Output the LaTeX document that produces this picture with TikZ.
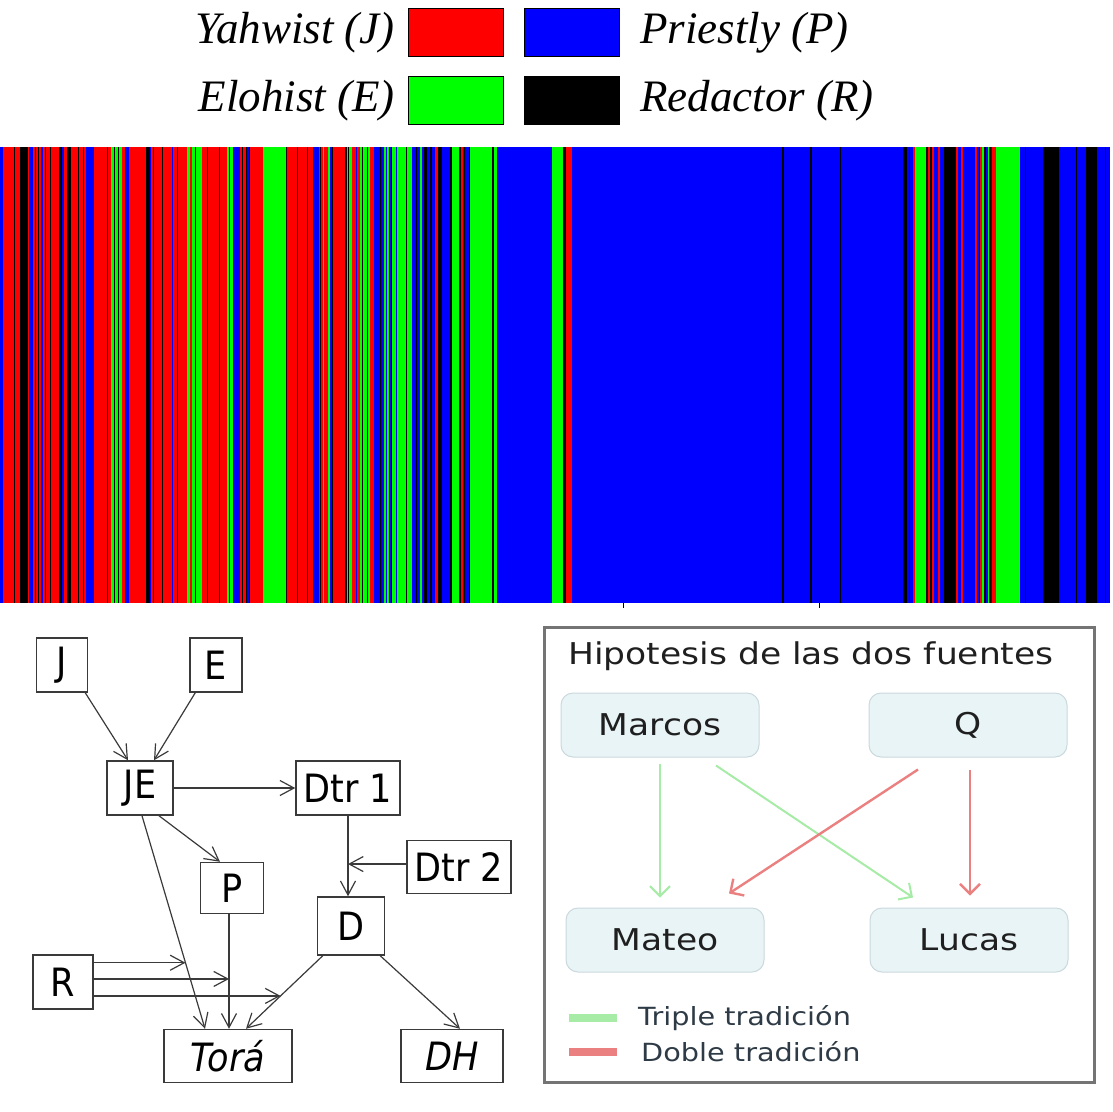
\documentclass[tikz,border=0pt]{standalone}
\usepackage{fontspec}
\usetikzlibrary{arrows.meta}
\newfontfamily\legfont{Liberation Serif}
\newfontfamily\diafont[FakeStretch=0.9]{DejaVu Sans}
\newfontfamily\boxfont[FakeStretch=1.15]{DejaVu Sans}
\colorlet{J}{red}
\colorlet{E}{green}
\colorlet{P}{blue}
\colorlet{R}{black}
\definecolor{linegray}{HTML}{3A3A3A}
\definecolor{framegray}{HTML}{747474}
\definecolor{boxfill}{HTML}{E9F4F7}
\definecolor{boxline}{HTML}{CAD9DD}
\definecolor{tripgreen}{HTML}{A6EBA6}
\definecolor{dobred}{HTML}{EB8080}
\definecolor{keytext}{HTML}{2E3B46}
\tikzset{
	srclabel/.style={font=\legfont\itshape\fontsize{45}{45}\selectfont, inner sep=0pt},
	swatch/.style={draw=black, line width=0.8pt, minimum width=95pt, minimum height=48pt, inner sep=0pt},
	src/.style={draw=linegray, line width=1.5pt, inner sep=0pt, minimum width=60pt, minimum height=54pt, font=\diafont\fontsize{39}{39}\selectfont},
	arr/.style={draw=linegray, line width=1.2pt, -{Straight Barb[length=14pt,width=15pt]}},
	gosp/.style={draw=boxline, line width=1pt, fill=boxfill, rounded corners=12pt, minimum width=198pt, minimum height=64pt, text=black!88, font=\boxfont\fontsize{30}{30}\selectfont},
	garr/.style={draw=tripgreen, line width=2pt, -{Straight Barb[length=10pt,width=20pt]}},
	rarr/.style={draw=dobred, line width=2.4pt, -{Straight Barb[length=10pt,width=20pt]}},
	keylabel/.style={anchor=west, inner sep=0pt, text=keytext, font=\boxfont\fontsize{25}{25}\selectfont},
}

\begin{document}
\begin{tikzpicture}[x=1pt, y=-1pt]
	%%%%% START %%%%%
	\useasboundingbox (0,0) rectangle (1112,1112);
	
	% key of the sources
	\node[srclabel, anchor=east] (yahw) at (395,33) {Yahwist (J)};
	\node[srclabel, anchor=east] (eloh) at (395,101) {Elohist (E)};
	\node[swatch, fill=J] (jbox) at (455.5,32) {};
	\node[swatch, fill=P] (pbox) at (572,32) {};
	\node[swatch, fill=E] (ebox) at (455.5,100) {};
	\node[swatch, fill=R] (rbox) at (572,100) {};
	\node[srclabel, anchor=west] (prie) at (640,33) {Priestly (P)};
	\node[srclabel, anchor=west] (reda) at (640,101) {Redactor (R)};
	
	% verses of the Tora, one stripe per source
	\fill[P] (0,147) rectangle (1110,603);
	\foreach \a/\b/\c in {3/14/J, 14/15/R, 15/20/J, 20/28/R, 28/29/J, 33/35/J, 35/36/R, 36/38/J, 38/39/R, 39/41/J,
		43/45/J, 45/46/R, 46/50/J, 50/51/R, 51/59/J, 59/62/R, 64/67/J, 67/71/R, 71/78/J, 78/79/R, 79/83/J, 83/84/R,
		84/86/J, 94/107/J, 107/108/R, 108/111/J, 111/114/E, 114/115/R, 115/118/E, 118/119/R, 119/122/E, 122/125/J,
		129/146/J, 146/150/R, 151/153/J, 153/154/R, 154/162/J, 162/163/R, 163/172/J, 173/177/J, 177/178/R, 178/187/J,
		187/190/E, 190/192/J, 192/195/E, 195/196/R, 196/202/E, 202/207/J, 207/208/R, 208/219/J, 219/220/R, 220/227/J,
		227/229/E, 229/230/R, 230/233/E, 240/242/J, 242/243/R, 243/246/J, 246/247/R, 249/250/R, 250/263/J, 263/286/E,
		286/287/R, 287/297/J, 297/298/R, 298/307/J, 307/308/R, 308/313/J, 319/320/J, 320/321/R, 321/323/J, 323/324/E,
		324/328/J, 328/330/E, 332/333/R, 333/345/J, 345/347/R, 347/348/E, 348/349/R, 349/352/E, 352/356/J, 357/360/J,
		360/362/E, 362/363/R, 363/367/E, 367/368/R, 368/370/E, 370/374/J, 380/381/R, 384/386/E, 387/389/E, 391/392/R,
		392/396/E, 397/406/E, 406/407/R, 407/412/E, 416/417/R, 420/422/E, 424/427/R, 430/432/R, 435/438/J, 438/442/R,
		450/452/R, 452/459/E, 460/461/R, 461/463/J, 464/465/R, 469/470/R, 470/492/E, 492/494/R, 494/497/E, 552/563/E,
		563/566/R, 566/572/J, 782/784/R, 810/812/R, 840/841/R, 903/907/R, 909/910/R, 913/915/J, 915/926/E, 926/928/R,
		928/930/J, 930/932/R, 932/934/J, 938/940/J, 944/956/R, 956/958/J, 961/963/J, 975/977/J, 979/980/R, 980/982/J,
		982/984/E, 984/986/R, 988/989/E, 990/991/R, 992/996/J, 996/1020/E, 1025/1026/R, 1043/1059/R, 1076/1077/R,
		1086/1097/R, 1105/1106/R}
		\fill[\c] (\a,147) rectangle (\b,603);
	\draw[line width=0.8pt] (623,603) -- (623,608);
	\draw[line width=0.8pt] (819,603) -- (819,608);
	
	% documentary hypothesis
	\node[src, minimum width=51pt] (J) at (62,665) {J};
	\node[src, minimum width=52pt] (E) at (216,665) {E};
	\node[src, minimum width=66pt] (JE) at (140,788) {JE};
	\node[src, minimum width=104pt] (dtra) at (348,788) {Dtr 1};
	\node[src, minimum width=104pt, minimum height=53pt] (dtrb) at (459,867) {Dtr 2};
	\node[src, minimum width=63pt, minimum height=51pt] (P) at (232,888) {P};
	\node[src, minimum width=67pt, minimum height=58pt] (D) at (351,926) {D};
	\node[src] (R) at (63,982) {R};
	\node[src, minimum width=128pt, minimum height=53pt] (tora) at (228,1056) {\itshape Torá};
	\node[src, minimum width=102pt, minimum height=53pt] (DH) at (452,1056) {\itshape DH};
	
	\draw[arr] ([xshift=-3pt]J.south east) -- ([xshift=-12pt]JE.north);
	\draw[arr] ([xshift=6pt]E.south west) -- ([xshift=14pt]JE.north);
	\draw[arr] (JE.east) -- (dtra.west);
	\draw[arr] ([xshift=19pt]JE.south) -- ([xshift=-12pt]P.north);
	\draw[arr] ([xshift=2pt]JE.south) -- ([xshift=-23pt]tora.north) coordinate[pos=0.69] (jr);
	\draw[arr] ([xshift=-3pt]P.south) -- ([xshift=-3pt]P.south |- tora.north) coordinate[pos=0.565] (pr);
	\draw[arr] (dtra.south) -- (dtra.south |- D.north) coordinate[pos=0.6] (dm);
	\draw[arr] (dtrb.west |- dm) -- (dm);
	\draw[arr] ([xshift=6pt]D.south west) -- ([xshift=18pt]tora.north) coordinate[pos=0.55] (dr);
	\draw[arr] ([xshift=-5pt]D.south east) -- ([xshift=8pt]DH.north);
	\draw[arr] (R.east |- jr) -- (jr);
	\draw[arr] (R.east |- pr) -- (pr);
	\draw[arr] (R.east |- dr) -- (dr);
	
	% two-source hypothesis
	\draw[framegray, line width=3pt] (544,627) rectangle (1094,1082);
	\node[text=black!88, font=\boxfont\fontsize{30}{30}\selectfont] (hipo) at (811,656) {Hipotesis de las dos fuentes};
	\node[gosp] (marcos) at (660,725) {Marcos};
	\node[gosp] (Q) at (968,725) {Q};
	\node[gosp] (mateo) at (665,940) {Mateo};
	\node[gosp] (lucas) at (969,940) {Lucas};
	
	\draw[garr] ([yshift=-6pt]marcos.south) -- ([yshift=10pt]marcos.south |- mateo.north);
	\draw[garr] ([xshift=56pt,yshift=-8pt]marcos.south) -- ([xshift=-56pt,yshift=10pt]lucas.north);
	\draw[rarr] ([xshift=-50pt,yshift=-12pt]Q.south) -- ([xshift=64pt,yshift=14pt]mateo.north);
	\draw[rarr] ([xshift=2pt,yshift=-12pt]Q.south) -- ([xshift=2pt,yshift=12pt]Q.south |- lucas.north);
	
	\node[keylabel] (trip) at (638,1018) {Triple tradición};
	\node[keylabel] (doble) at (641,1052) {Doble tradición};
	\draw[tripgreen, line width=8pt] ([xshift=-69pt]trip.west) -- ([xshift=-21pt]trip.west);
	\draw[dobred, line width=8pt] ([xshift=-72pt]doble.west) -- ([xshift=-24pt]doble.west);
	%%%%% END %%%%%
\end{tikzpicture}
\end{document}
